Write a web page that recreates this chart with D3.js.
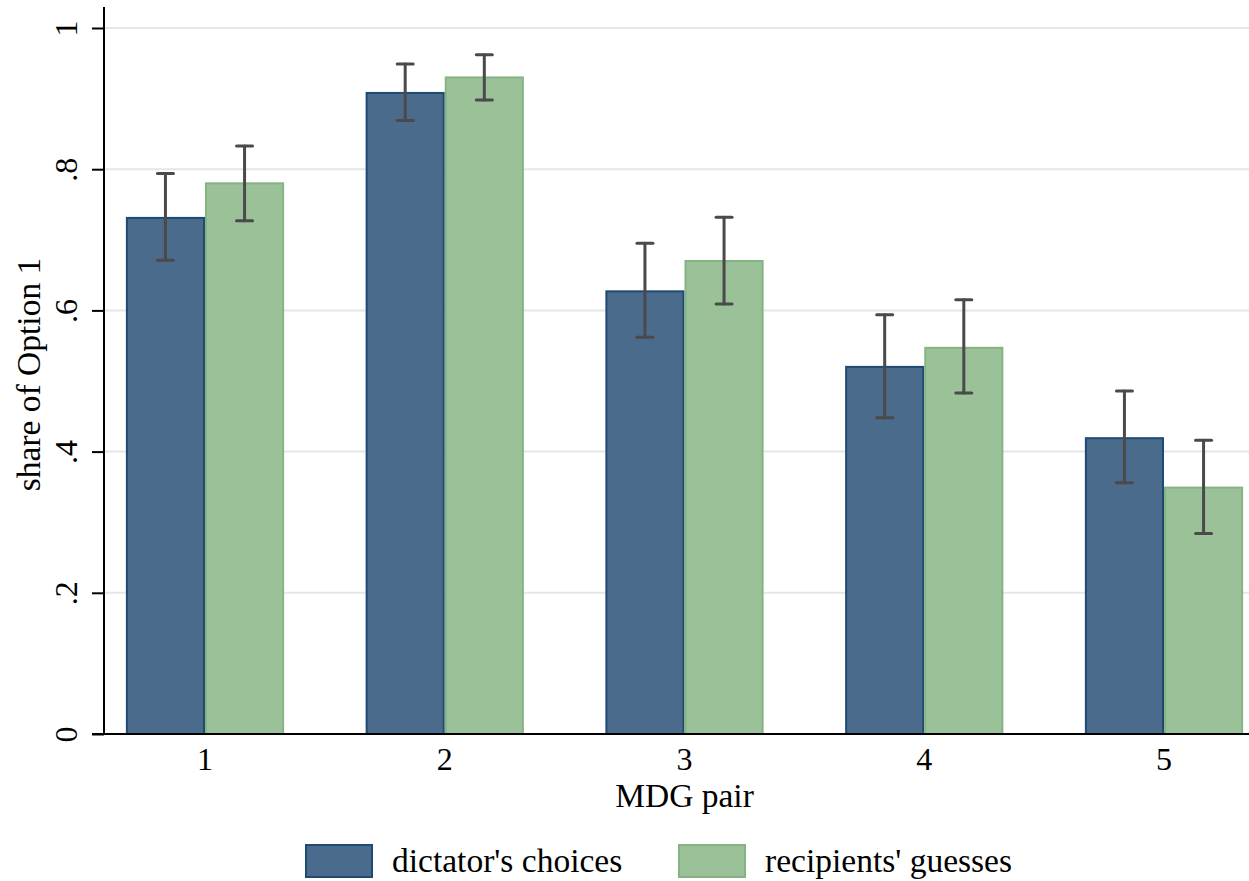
<!DOCTYPE html>
<html>
<head>
<meta charset="utf-8">
<script src="https://cdn.jsdelivr.net/npm/d3@7"></script>
<style>
  body { margin: 0; background: #fff; }
  svg text { font-family: "Times New Roman", "Liberation Serif", "DejaVu Serif", serif; fill: #000; }
</style>
</head>
<body>
<div id="chart"></div>
<script>
// MDG pairs on the x axis
var pairs = ["1", "2", "3", "4", "5"];
var seriesNames = ["dictator's choices", "recipients' guesses"];

// share of Option 1 (bar heights)
var dictatorShare = [0.731, 0.908, 0.627, 0.520, 0.419];
var recipientShare = [0.780, 0.930, 0.670, 0.547, 0.349];

// confidence intervals
var dictatorLow  = [0.671, 0.869, 0.562, 0.448, 0.356];
var dictatorHigh = [0.794, 0.949, 0.695, 0.594, 0.486];
var recipientLow  = [0.727, 0.898, 0.609, 0.483, 0.284];
var recipientHigh = [0.833, 0.962, 0.732, 0.615, 0.416];

var yTicks = [0, 0.2, 0.4, 0.6, 0.8, 1];
var yTickLabels = ["0", ".2", ".4", ".6", ".8", "1"];

var width = 1249, height = 881;
var fills = ["#4a6b8c", "#9bc198"];
var strokes = ["#1f4a73", "#86b383"];
var serif = "'Times New Roman', 'Liberation Serif', 'DejaVu Serif', serif";

var svg = d3.select("#chart").append("svg")
    .attr("width", width)
    .attr("height", height)
    .attr("font-family", serif);

var axisX = 104, axisY = 734;

var y = d3.scaleLinear()
    .domain([0, 1])
    .range([axisY, 28]);

var x = d3.scaleBand()
    .domain(pairs)
    .range([85.125, 1283.875])
    .padding(0);

var barW = x.bandwidth() * 0.33;
var xs = d3.scaleBand()
    .domain([0, 1])
    .range([x.bandwidth() / 2 - barW, x.bandwidth() / 2 + barW]);

// gridlines
svg.append("g")
    .selectAll("line")
    .data(yTicks.slice(1))
    .enter()
    .append("line")
    .attr("x1", axisX)
    .attr("x2", width)
    .attr("y1", function(d) { return y(d); })
    .attr("y2", function(d) { return y(d); })
    .style("stroke", "#e6e6e6")
    .style("stroke-width", 2);

// bars
var rows = pairs.map(function(p, i) {
    return {
        pair: p,
        vals: [
            {s: 0, v: dictatorShare[i], lo: dictatorLow[i], hi: dictatorHigh[i]},
            {s: 1, v: recipientShare[i], lo: recipientLow[i], hi: recipientHigh[i]}
        ]
    };
});

var groups = svg.append("g")
    .selectAll("g")
    .data(rows)
    .enter()
    .append("g")
    .attr("transform", function(d) { return "translate(" + x(d.pair) + ",0)"; });

groups.selectAll("rect")
    .data(function(d) { return d.vals; })
    .enter()
    .append("rect")
    .attr("x", function(d) { return xs(d.s) + 1; })
    .attr("y", function(d) { return y(d.v); })
    .attr("width", xs.bandwidth() - 2)
    .attr("height", function(d) { return y(0) - y(d.v); })
    .style("fill", function(d) { return fills[d.s]; })
    .style("stroke", function(d) { return strokes[d.s]; })
    .style("stroke-width", 2);

// error bars
var errG = groups.selectAll("g.err")
    .data(function(d) { return d.vals; })
    .enter()
    .append("g")
    .attr("class", "err")
    .attr("transform", function(d) { return "translate(" + (xs(d.s) + xs.bandwidth() / 2) + ",0)"; });

errG.append("line")
    .attr("x1", 0).attr("x2", 0)
    .attr("y1", function(d) { return y(d.lo); })
    .attr("y2", function(d) { return y(d.hi); });
errG.append("line")
    .attr("x1", -8).attr("x2", 8)
    .attr("y1", function(d) { return y(d.lo); })
    .attr("y2", function(d) { return y(d.lo); });
errG.append("line")
    .attr("x1", -8).attr("x2", 8)
    .attr("y1", function(d) { return y(d.hi); })
    .attr("y2", function(d) { return y(d.hi); });
errG.selectAll("line")
    .style("stroke", "#4a4a4a")
    .style("stroke-width", 3)
    .style("stroke-linecap", "round");

// y axis
var yAxis = svg.append("g")
    .attr("transform", "translate(" + axisX + ",0)")
    .call(d3.axisLeft(y)
        .tickValues(yTicks)
        .tickSize(12)
        .tickFormat(function(d, i) { return yTickLabels[i]; }));
yAxis.attr("font-family", serif).attr("font-size", null);
yAxis.select(".domain").remove();
yAxis.selectAll(".tick line").style("stroke", "#000").style("stroke-width", 2);
yAxis.selectAll(".tick text")
    .attr("x", null).attr("dy", null).attr("y", null)
    .attr("transform", "translate(-27,0) rotate(-90)")
    .attr("text-anchor", "middle")
    .style("font-size", "32px");
yAxis.append("line")
    .attr("x1", 0).attr("x2", 0)
    .attr("y1", 7).attr("y2", axisY)
    .style("stroke", "#000").style("stroke-width", 2);

// x axis
var xAxis = svg.append("g")
    .attr("transform", "translate(0," + axisY + ")")
    .call(d3.axisBottom(x).tickSize(0).tickPadding(0));
xAxis.attr("font-family", serif).attr("font-size", null);
xAxis.select(".domain").remove();
xAxis.selectAll(".tick text")
    .attr("y", 35.5).attr("dy", null)
    .style("font-size", "32px");
xAxis.append("line")
    .attr("x1", 92).attr("x2", width)
    .attr("y1", 0).attr("y2", 0)
    .style("stroke", "#000").style("stroke-width", 2);

// axis titles
svg.append("text")
    .attr("x", (axisX + width) / 2 + 8)
    .attr("y", 807)
    .attr("text-anchor", "middle")
    .style("font-size", "33.5px")
    .text("MDG pair");

svg.append("text")
    .attr("transform", "translate(40," + ((7 + axisY) / 2 + 4) + ") rotate(-90)")
    .attr("text-anchor", "middle")
    .style("font-size", "33.5px")
    .text("share of Option 1");

// legend
var legend = svg.append("g")
    .selectAll("g")
    .data(seriesNames)
    .enter()
    .append("g")
    .attr("transform", function(d, i) { return "translate(" + (306 + i * 373) + ",845)"; });
legend.append("rect")
    .attr("width", 66).attr("height", 32)
    .style("fill", function(d, i) { return fills[i]; })
    .style("stroke", function(d, i) { return strokes[i]; })
    .style("stroke-width", 2);
legend.append("text")
    .attr("x", 86).attr("y", 27)
    .style("font-size", "33.5px")
    .text(function(d) { return d; });
</script>
</body>
</html>
